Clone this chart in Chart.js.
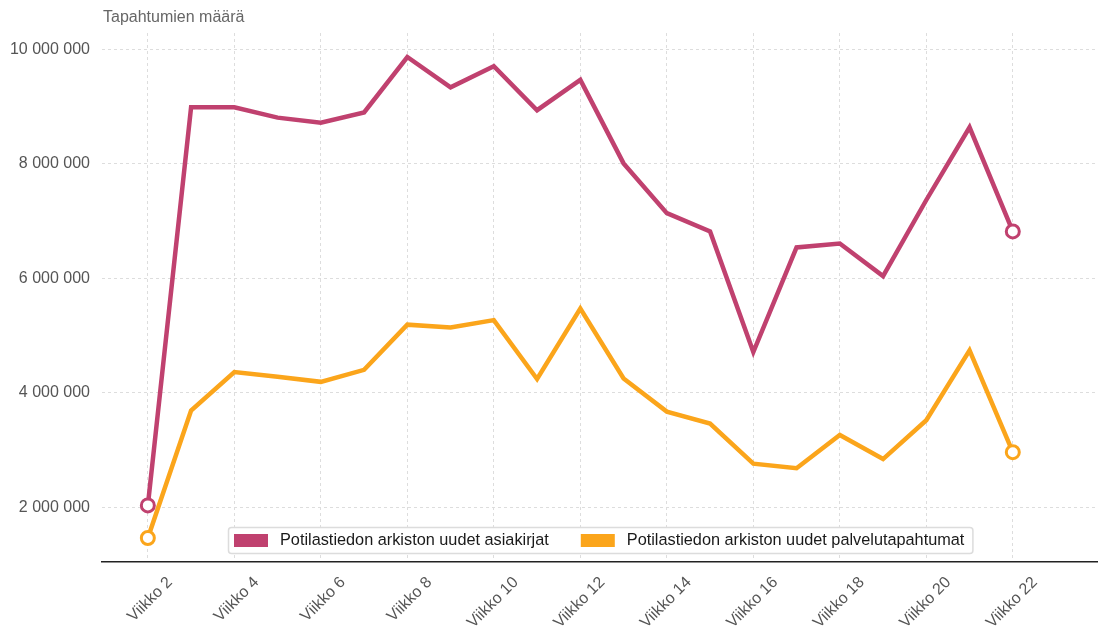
<!DOCTYPE html>
<html>
<head>
<meta charset="utf-8">
<script src="https://cdn.jsdelivr.net/npm/chart.js@4/dist/chart.umd.min.js"></script>
<style>
  html, body { margin: 0; padding: 0; background: #fff; overflow: hidden; }
  canvas { display: block; }
</style>
</head>
<body>
<canvas id="chart" width="1098" height="628"></canvas>
<script>
// weeks on the x axis
const weeks = [2, 3, 4, 5, 6, 7, 8, 9, 10, 11, 12, 13, 14, 15, 16, 17, 18, 19, 20, 21, 22];
const weekTicks = [2, 4, 6, 8, 10, 12, 14, 16, 18, 20, 22];
const valueTicks = [2000000, 4000000, 6000000, 8000000, 10000000];

const seriesNames = [
  'Potilastiedon arkiston uudet asiakirjat',
  'Potilastiedon arkiston uudet palvelutapahtumat'
];
const asiakirjat = [2030000, 8990000, 8990000, 8810000, 8720000, 8900000, 9870000, 9340000, 9710000, 8940000,
  9470000, 8010000, 7140000, 6820000, 4710000, 6540000, 6610000, 6040000, 7370000, 8640000, 6820000];
const palvelutapahtumat = [1460000, 3690000, 4360000, 4280000, 4190000, 4400000, 5190000, 5140000, 5270000, 4240000,
  5470000, 4250000, 3670000, 3460000, 2760000, 2680000, 3260000, 2840000, 3520000, 4740000, 2960000];

const colors = ['#C0416F', '#FBA51B'];
const FONT = "'Liberation Sans', Arial, sans-serif";

const fmt = v => String(v).replace(/\B(?=(\d{3})+(?!\d))/g, ' ');

// only first and last point get a marker
const endPoint = (ctx) => {
  const n = ctx.dataset.data.length;
  return (ctx.dataIndex === 0 || ctx.dataIndex === n - 1) ? 6.5 : 0;
};

function makeDataset(label, values, color) {
  return {
    label: label,
    data: weeks.map((w, i) => ({ x: w, y: values[i] })),
    borderColor: color,
    backgroundColor: '#fff',
    borderWidth: 4.5,
    tension: 0,
    pointRadius: endPoint,
    pointHoverRadius: endPoint,
    pointBorderWidth: 3,
    pointBackgroundColor: '#fff',
    pointBorderColor: color
  };
}

// title above the y axis + legend box inside the plot
const decorations = {
  id: 'decorations',
  afterDraw(chart) {
    const { ctx, chartArea } = chart;
    ctx.save();
    ctx.font = '16px ' + FONT;
    ctx.fillStyle = '#666';
    ctx.textBaseline = 'middle';
    ctx.textAlign = 'left';
    ctx.fillText('Tapahtumien määrä', chartArea.left + 1, 18);

    ctx.font = '16.3px ' + FONT;
    const sets = chart.data.datasets;
    const boxW = 34, boxH = 13, gap = 12, itemGap = 32, padL = 6, padR = 8;
    const widths = sets.map(d => ctx.measureText(d.label).width);
    let total = padL + padR;
    widths.forEach((w, i) => { total += boxW + gap + w + (i < widths.length - 1 ? itemGap : 0); });
    const h = 26;
    const x0 = Math.round((chartArea.left + chartArea.right) / 2 - total / 2);
    const y0 = chartArea.bottom - 9 - h;

    ctx.fillStyle = '#fff';
    ctx.strokeStyle = '#dcdcdc';
    ctx.lineWidth = 1.5;
    ctx.beginPath();
    ctx.roundRect(x0 + 0.5, y0 + 0.5, total, h, 3);
    ctx.fill();
    ctx.stroke();

    let x = x0 + padL;
    const cy = y0 + h / 2 + 0.5;
    sets.forEach((d, i) => {
      ctx.fillStyle = d.borderColor;
      ctx.fillRect(x, cy - boxH / 2, boxW, boxH);
      x += boxW + gap;
      ctx.fillStyle = '#1a1a1a';
      ctx.fillText(d.label, x, cy);
      x += widths[i] + itemGap;
    });
    ctx.restore();
  }
};

const chart = new Chart(document.getElementById('chart').getContext('2d'), {
  type: 'line',
  data: {
    datasets: [
      makeDataset(seriesNames[0], asiakirjat, colors[0]),
      makeDataset(seriesNames[1], palvelutapahtumat, colors[1])
    ]
  },
  options: {
    responsive: false,
    animation: false,
    layout: { autoPadding: false, padding: { top: 33, right: 0, left: 0, bottom: 0 } },
    plugins: {
      legend: { display: false },
      tooltip: { enabled: false }
    },
    scales: {
      x: {
        type: 'linear',
        min: 0.94,
        max: 23.97,
        afterBuildTicks: axis => { axis.ticks = weekTicks.map(v => ({ value: v })); },
        afterFit: axis => {
          axis.height = 66;
          axis.paddingLeft = 0;
          axis.paddingRight = 0;
        },
        grid: { color: '#dddddd', lineWidth: 1, drawTicks: false },
        border: { display: true, color: '#222', width: 1.5, dash: [3, 3] },
        ticks: {
          minRotation: 45,
          maxRotation: 45,
          labelOffset: 22,
          padding: 11,
          color: '#555',
          font: { family: FONT, size: 16 },
          callback: v => 'Viikko ' + v
        }
      },
      y: {
        min: 1040000,
        max: 10290000,
        afterBuildTicks: axis => { axis.ticks = valueTicks.map(v => ({ value: v })); },
        afterFit: axis => {
          axis.width = 102;
          axis.paddingTop = 0;
          axis.paddingBottom = 0;
        },
        grid: { color: '#dddddd', lineWidth: 1, drawTicks: false },
        border: { display: false, dash: [3, 3] },
        ticks: {
          padding: 12,
          color: '#555',
          font: { family: FONT, size: 16 },
          callback: v => fmt(v)
        }
      }
    }
  },
  plugins: [decorations]
});
</script>
</body>
</html>
